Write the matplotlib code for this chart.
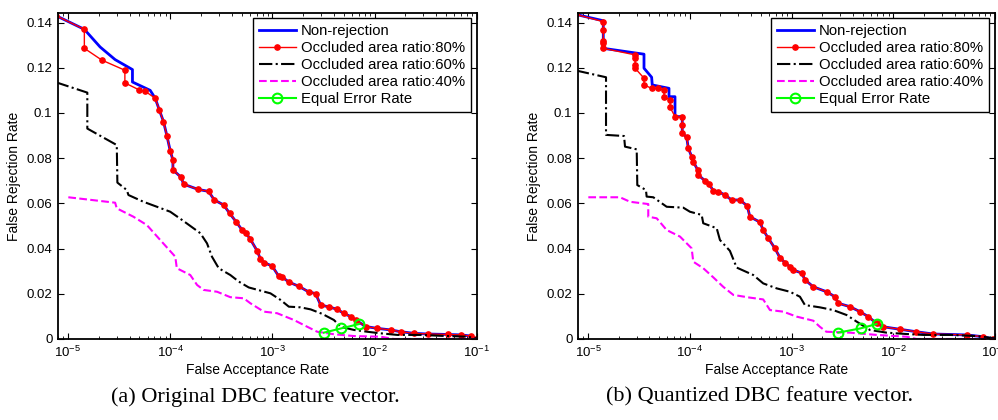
import numpy as np
import matplotlib
matplotlib.use("Agg")
import matplotlib.pyplot as plt
from matplotlib.ticker import LogLocator, NullFormatter, FormatStrFormatter

plt.rcParams['font.family'] = ['Liberation Sans', 'DejaVu Sans']
plt.rcParams['mathtext.default'] = 'regular'
plt.rcParams['axes.unicode_minus'] = False

# ---- (a) original DBC feature vector ----
far_80_a = [7.6e-6, 1.445e-5, 1.445e-5, 2.14e-5, 3.60e-5, 3.60e-5, 4.97e-5, 5.69e-5, 7.13e-5, 7.85e-5,
            8.59e-5, 9.29e-5, 1.0e-4, 1.062e-4, 1.062e-4, 1.282e-4, 1.349e-4, 1.87e-4, 2.37e-4, 2.70e-4,
            3.33e-4, 3.81e-4, 4.40e-4, 5.05e-4, 5.52e-4, 6.08e-4, 7.08e-4, 7.62e-4, 8.22e-4, 9.93e-4,
            1.153e-3, 1.245e-3, 1.445e-3, 1.81e-3, 2.27e-3, 2.64e-3, 2.96e-3, 3.57e-3, 4.31e-3, 5.00e-3,
            5.82e-3, 6.52e-3, 8.16e-3, 1.062e-2, 1.435e-2, 1.80e-2, 2.43e-2, 3.29e-2, 5.16e-2, 6.97e-2,
            8.73e-2, 9.78e-2]
frr_80_a = [0.1431, 0.1370, 0.1286, 0.1234, 0.1189, 0.1133, 0.1102, 0.1096, 0.1065, 0.1011,
            0.0962, 0.0898, 0.0832, 0.0792, 0.0748, 0.0715, 0.0685, 0.0662, 0.0653, 0.0615,
            0.0593, 0.0556, 0.0519, 0.0482, 0.0468, 0.0441, 0.0390, 0.0354, 0.0338, 0.0323,
            0.0277, 0.0274, 0.0252, 0.0233, 0.0208, 0.0201, 0.0150, 0.0142, 0.0131, 0.0113,
            0.0099, 0.0084, 0.0055, 0.0047, 0.0040, 0.0032, 0.0025, 0.0022, 0.0020, 0.0018,
            0.0013, 0.0]

# non-rejection differs from 80% only at the start
far_nr_a = [7.6e-6, 1.445e-5, 2.06e-5, 2.89e-5, 4.27e-5, 4.27e-5, 6.37e-5, 7.13e-5] + far_80_a[9:]
frr_nr_a = [0.1431, 0.1370, 0.1292, 0.1236, 0.1192, 0.1137, 0.1100, 0.1065] + frr_80_a[9:]

far_60_a = [7.6e-6, 1.545e-5, 1.545e-5, 3.0e-5, 3.04e-5, 3.76e-5, 3.90e-5, 5.47e-5, 7.41e-5, 1.0e-4,
            1.30e-4, 1.97e-4, 2.29e-4, 2.56e-4, 2.98e-4, 3.87e-4, 4.68e-4, 5.86e-4, 6.56e-4, 9.55e-4,
            1.197e-3, 1.445e-3, 1.88e-3, 2.36e-3, 3.07e-3, 3.99e-3, 4.65e-3, 6.27e-3, 8.47e-3, 1.145e-2,
            1.67e-2, 2.83e-2, 4.44e-2, 8.11e-2, 9.78e-2]
frr_60_a = [0.1136, 0.1090, 0.0931, 0.0858, 0.0692, 0.0659, 0.0637, 0.0607, 0.0585, 0.0563,
            0.0527, 0.0468, 0.0423, 0.0364, 0.0313, 0.0283, 0.0254, 0.0228, 0.0222, 0.0202,
            0.0173, 0.0143, 0.0140, 0.0131, 0.0111, 0.0084, 0.0054, 0.0040, 0.0032, 0.0025,
            0.0018, 0.0018, 0.0014, 0.0010, 0.0003]

far_40_a = [1.007e-5, 2.89e-5, 3.0e-5, 4.36e-5, 5.91e-5, 7.98e-5, 1.12e-4, 1.16e-4, 1.57e-4, 1.83e-4,
            2.12e-4, 2.87e-4, 3.87e-4, 5.24e-4, 6.08e-4, 8.22e-4, 1.11e-3, 1.62e-3, 2.19e-3, 2.74e-3,
            3.99e-3, 6.27e-3, 1.145e-2, 1.545e-2, 1e-1]
frr_40_a = [0.0627, 0.0603, 0.0578, 0.0541, 0.0504, 0.0438, 0.0364, 0.0313, 0.0283, 0.0239,
            0.0217, 0.0209, 0.0185, 0.0180, 0.0158, 0.0121, 0.0114, 0.0084, 0.0054, 0.0032,
            0.0021, 0.0013, 0.0010, 0.0, 0.0]

eer_far_a = [3.18e-3, 4.71e-3, 7.02e-3]
eer_frr_a = [0.0028, 0.0047, 0.0066]

# ---- (b) quantized DBC feature vector ----
far_80_b = [7.6e-6, 1.413e-5, 1.413e-5, 1.413e-5, 1.413e-5, 1.413e-5, 2.90e-5, 2.90e-5, 2.90e-5, 2.90e-5,
            3.55e-5, 3.55e-5, 4.22e-5, 4.91e-5, 5.58e-5, 5.58e-5, 6.40e-5, 6.40e-5, 7.16e-5, 8.44e-5,
            8.44e-5, 8.44e-5, 9.33e-5, 9.67e-5, 1.044e-4, 1.082e-4, 1.196e-4, 1.211e-4, 1.41e-4, 1.555e-4,
            1.70e-4, 1.91e-4, 2.22e-4, 2.58e-4, 3.11e-4, 3.67e-4, 3.90e-4, 4.89e-4, 5.27e-4, 5.91e-4,
            6.87e-4, 7.69e-4, 8.61e-4, 9.64e-4, 1.04e-3, 1.257e-3, 1.355e-3, 1.635e-3, 2.21e-3, 2.67e-3,
            2.88e-3, 3.75e-3, 4.70e-3, 5.67e-3, 6.85e-3, 7.96e-3, 1.16e-2, 1.69e-2, 2.47e-2, 5.25e-2,
            7.64e-2, 9.57e-2]
frr_80_b = [0.1436, 0.1404, 0.1367, 0.1320, 0.1308, 0.1286, 0.1257, 0.1242, 0.1212, 0.1198,
            0.1154, 0.1124, 0.1109, 0.1109, 0.1102, 0.1072, 0.1058, 0.1025, 0.0984, 0.0981,
            0.0947, 0.0910, 0.0893, 0.0844, 0.0807, 0.0785, 0.0748, 0.0726, 0.0700, 0.0685,
            0.0656, 0.0652, 0.0637, 0.0615, 0.0615, 0.0589, 0.0541, 0.0517, 0.0482, 0.0446,
            0.0401, 0.0360, 0.0338, 0.0320, 0.0305, 0.0292, 0.0262, 0.0231, 0.0209, 0.0187,
            0.0158, 0.0143, 0.0121, 0.0099, 0.0069, 0.0054, 0.0043, 0.0032, 0.0022, 0.0018,
            0.0010, 0.0]

far_nr_b = [7.6e-6, 1.413e-5, 1.413e-5, 3.55e-5, 3.55e-5, 4.22e-5, 4.28e-5, 6.25e-5, 6.25e-5, 7.16e-5,
            7.16e-5, 8.44e-5] + far_80_b[20:]
frr_nr_b = [0.1436, 0.1408, 0.1286, 0.1260, 0.1198, 0.1158, 0.1124, 0.1109, 0.1072, 0.1072,
            0.0984, 0.0984] + frr_80_b[20:]

far_60_b = [7.6e-6, 1.503e-5, 1.503e-5, 2.26e-5, 2.31e-5, 3.01e-5, 3.05e-5, 3.71e-5, 3.77e-5, 4.38e-5,
            5.93e-5, 8.63e-5, 1.004e-4, 1.309e-4, 1.357e-4, 1.84e-4, 1.98e-4, 2.48e-4, 2.89e-4, 4.21e-4,
            5.27e-4, 7.14e-4, 9.64e-4, 1.21e-3, 1.355e-3, 1.90e-3, 2.57e-3, 3.48e-3, 4.36e-3, 5.89e-3,
            8.59e-3, 1.35e-2, 1.97e-2, 3.60e-2, 6.58e-2, 9.95e-2]
frr_60_b = [0.1188, 0.1158, 0.0903, 0.0898, 0.0851, 0.0839, 0.0681, 0.0659, 0.0630, 0.0627,
            0.0585, 0.0581, 0.0563, 0.0549, 0.0512, 0.0490, 0.0438, 0.0390, 0.0316, 0.0283,
            0.0246, 0.0224, 0.0209, 0.0187, 0.0150, 0.0140, 0.0128, 0.0106, 0.0077, 0.0040,
            0.0028, 0.0022, 0.0018, 0.0018, 0.0013, 0.0003]

far_40_b = [1.007e-5, 2.06e-5, 2.59e-5, 3.91e-5, 3.91e-5, 4.73e-5, 5.93e-5, 8.02e-5, 1.044e-4, 1.082e-4,
            1.357e-4, 1.70e-4, 2.13e-4, 2.68e-4, 3.90e-4, 5.27e-4, 6.14e-4, 8.28e-4, 1.122e-3, 1.635e-3,
            1.90e-3, 2.20e-3, 3.75e-3, 6.85e-3, 1.35e-2, 1.69e-2, 1e-1]
frr_40_b = [0.0627, 0.0627, 0.0607, 0.0597, 0.0541, 0.0534, 0.0482, 0.0453, 0.0401, 0.0342,
            0.0313, 0.0273, 0.0231, 0.0195, 0.0183, 0.0175, 0.0128, 0.0121, 0.0099, 0.0081,
            0.0054, 0.0032, 0.0028, 0.0018, 0.0010, 0.0, 0.0]

eer_far_b = [2.88e-3, 4.78e-3, 6.85e-3]
eer_frr_b = [0.0028, 0.0047, 0.0066]

labels = ["Non-rejection", "Occluded area ratio:80%", "Occluded area ratio:60%",
          "Occluded area ratio:40%", "Equal Error Rate"]
yticks = [0, 0.02, 0.04, 0.06, 0.08, 0.1, 0.12, 0.14]
captions = ["(a) Original DBC feature vector.", "(b) Quantized DBC feature vector."]


def panel(ax, nr, r80, r60, r40, eer):
    ax.plot(nr[0], nr[1], color='#0000ff', lw=2.0)
    ax.plot(r80[0], r80[1], color='#ff0000', lw=1.0, marker='o', ms=3.8, mec='#ff0000')
    ax.plot(r60[0], r60[1], color='k', lw=1.5, ls='-.')
    ax.plot(r40[0], r40[1], color='#ff00ff', lw=1.5, ls='--')
    ax.plot(eer[0], eer[1], color='#00ff00', lw=1.5, marker='o', ms=7, mfc='none', mew=1.5)
    ax.set_xscale('log')
    ax.set_xlim(7.98e-6, 0.1)
    ax.set_ylim(0, 0.1442)
    ax.set_yticks(yticks)
    ax.yaxis.set_major_formatter(FormatStrFormatter('%g'))
    ax.xaxis.set_major_locator(LogLocator(base=10, numticks=10))
    ax.xaxis.set_minor_locator(LogLocator(base=10, subs=np.arange(2, 10), numticks=10))
    ax.xaxis.set_minor_formatter(NullFormatter())
    ax.tick_params(which='both', direction='in', top=True, right=True, labelsize=9.5, pad=4)
    ax.tick_params(which='major', length=4)
    ax.tick_params(which='minor', length=2.5)
    for s in ax.spines.values():
        s.set_linewidth(1.3)
    ax.set_xlabel("False Acceptance Rate", fontsize=10)
    ax.set_ylabel("False Rejection Rate", fontsize=10)
    ax.xaxis.set_label_coords(0.477, -0.075)
    ax.yaxis.set_label_coords(-0.088, 0.5)
    leg = ax.legend(labels, loc='upper right', bbox_to_anchor=(0.986, 0.985), borderaxespad=0,
                    fontsize=10.7, handlelength=2.5, handletextpad=0.34, labelspacing=0.2,
                    fancybox=False, framealpha=1, edgecolor='k', borderpad=0.4)
    leg.get_frame().set_linewidth(1.0)


fig = plt.figure(figsize=(9.98, 4.2), dpi=100)
ax1 = fig.add_axes([0.0581, 0.1929, 0.4198, 0.776])
ax2 = fig.add_axes([0.5792, 0.1929, 0.4178, 0.776])

panel(ax1, (far_nr_a, frr_nr_a), (far_80_a, frr_80_a), (far_60_a, frr_60_a),
      (far_40_a, frr_40_a), (eer_far_a, eer_frr_a))
panel(ax2, (far_nr_b, frr_nr_b), (far_80_b, frr_80_b), (far_60_b, frr_60_b),
      (far_40_b, frr_40_b), (eer_far_b, eer_frr_b))

fig.text(0.256, 0.055, captions[0], ha='center', va='center', fontsize=16, family='Liberation Serif')
fig.text(0.761, 0.055, captions[1], ha='center', va='center', fontsize=16, family='Liberation Serif')

plt.savefig("out.png", dpi=100)
